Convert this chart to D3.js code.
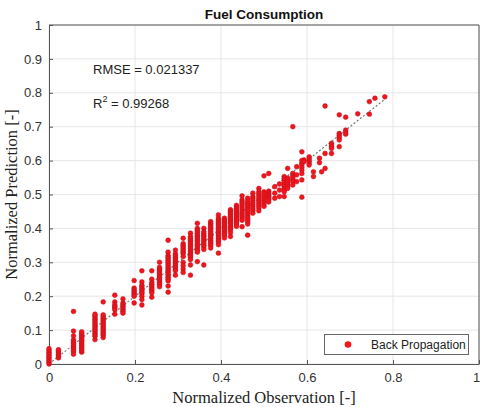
<!DOCTYPE html>
<html>
<head>
<meta charset="utf-8">
<script src="https://cdn.jsdelivr.net/npm/d3@7"></script>
<style>
  body { margin: 0; background: #fff; }
  text { font-family: "Liberation Sans", Arial, sans-serif; }
</style>
</head>
<body>
<div id="chart"></div>
<script>
// observation levels (x) and predictions read at each level (y)
const colX = [0.0, 0.022, 0.057, 0.076, 0.107, 0.126, 0.153, 0.172, 0.198, 0.216,
  0.239, 0.257, 0.277, 0.294, 0.312, 0.329, 0.345, 0.36, 0.376, 0.394,
  0.408, 0.422, 0.436, 0.449, 0.462, 0.474, 0.488, 0.50, 0.511, 0.525,
  0.536, 0.547, 0.555, 0.567, 0.576, 0.588, 0.593, 0.605, 0.615, 0.629,
  0.634, 0.642, 0.657, 0.675, 0.69, 0.718, 0.745, 0.758, 0.781];

const colY = [
  [0.0, 0.005, 0.01, 0.015, 0.02, 0.025, 0.03, 0.035, 0.04, 0.045],
  [0.018, 0.023, 0.028, 0.033, 0.038, 0.042],
  [0.155, 0.097, 0.083, 0.071, 0.066, 0.061, 0.056, 0.051, 0.046, 0.041, 0.036, 0.029],
  [0.035, 0.04, 0.045, 0.05, 0.055, 0.06, 0.065, 0.07, 0.075, 0.08, 0.085, 0.09, 0.095],
  [0.072, 0.082, 0.087, 0.092, 0.097, 0.102, 0.107, 0.112, 0.117, 0.122, 0.127, 0.132, 0.137, 0.142, 0.147],
  [0.183, 0.078, 0.085, 0.09, 0.095, 0.1, 0.105, 0.11, 0.115, 0.12, 0.125, 0.13, 0.135, 0.14, 0.145],
  [0.203, 0.183, 0.175, 0.17, 0.165, 0.16, 0.147],
  [0.192, 0.18, 0.175, 0.17, 0.165, 0.16, 0.155, 0.15],
  [0.246, 0.224, 0.219, 0.214, 0.209, 0.204, 0.2, 0.18],
  [0.275, 0.242, 0.232, 0.227, 0.222, 0.217, 0.212, 0.207, 0.2, 0.19, 0.174],
  [0.275, 0.25, 0.24, 0.235, 0.23, 0.225, 0.22, 0.215, 0.21, 0.197],
  [0.3, 0.285, 0.28, 0.275, 0.27, 0.265, 0.26, 0.255, 0.25, 0.245, 0.24, 0.235, 0.228],
  [0.365, 0.33, 0.32, 0.315, 0.31, 0.305, 0.3, 0.295, 0.29, 0.285, 0.28, 0.275, 0.27, 0.265, 0.26, 0.255, 0.25, 0.245, 0.23, 0.212],
  [0.336, 0.325, 0.32, 0.315, 0.31, 0.305, 0.3, 0.295, 0.29, 0.285, 0.28, 0.275, 0.262],
  [0.371, 0.355, 0.35, 0.345, 0.34, 0.335, 0.33, 0.325, 0.317, 0.3, 0.29, 0.28, 0.27],
  [0.386, 0.376, 0.37, 0.365, 0.36, 0.355, 0.35, 0.345, 0.34, 0.335, 0.33, 0.325, 0.32, 0.315, 0.308, 0.292, 0.262],
  [0.415, 0.4, 0.395, 0.39, 0.385, 0.38, 0.375, 0.37, 0.365, 0.36, 0.355, 0.35, 0.345, 0.34, 0.335, 0.33, 0.302],
  [0.4, 0.39, 0.385, 0.38, 0.375, 0.37, 0.365, 0.36, 0.355, 0.35, 0.345, 0.338, 0.292],
  [0.42, 0.415, 0.41, 0.405, 0.4, 0.395, 0.39, 0.385, 0.38, 0.375, 0.37, 0.365, 0.36, 0.355, 0.35, 0.342],
  [0.44, 0.43, 0.425, 0.42, 0.415, 0.41, 0.405, 0.4, 0.395, 0.39, 0.385, 0.38, 0.375, 0.37, 0.365, 0.36, 0.352, 0.327],
  [0.43, 0.425, 0.42, 0.415, 0.41, 0.405, 0.4, 0.395, 0.39, 0.385, 0.38, 0.372],
  [0.455, 0.45, 0.445, 0.44, 0.435, 0.43, 0.425, 0.42, 0.415, 0.41, 0.405, 0.4, 0.395, 0.387, 0.376],
  [0.468, 0.463, 0.458, 0.453, 0.448, 0.443, 0.438, 0.433, 0.428, 0.423, 0.418, 0.413, 0.406],
  [0.496, 0.484, 0.478, 0.472, 0.466, 0.46, 0.454, 0.448, 0.442, 0.436, 0.43, 0.424, 0.405],
  [0.489, 0.48, 0.474, 0.468, 0.462, 0.456, 0.45, 0.444, 0.438, 0.432, 0.426, 0.42, 0.413, 0.38],
  [0.504, 0.494, 0.488, 0.482, 0.476, 0.47, 0.464, 0.458, 0.452, 0.445],
  [0.518, 0.508, 0.502, 0.496, 0.49, 0.484, 0.478, 0.472, 0.466, 0.46, 0.452],
  [0.555, 0.508, 0.502, 0.496, 0.49, 0.484, 0.478, 0.472, 0.465],
  [0.562, 0.51, 0.505, 0.5, 0.495, 0.49, 0.485, 0.478],
  [0.523, 0.504, 0.489],
  [0.531, 0.513, 0.494],
  [0.553, 0.548, 0.542, 0.536, 0.53, 0.524, 0.518, 0.513, 0.508, 0.494],
  [0.577, 0.548, 0.542, 0.536, 0.53, 0.524, 0.518],
  [0.70, 0.562, 0.556, 0.55, 0.544, 0.538, 0.528],
  [0.582, 0.558, 0.538],
  [0.626, 0.6, 0.592, 0.587, 0.58, 0.572, 0.562, 0.543, 0.492],
  [0.602, 0.597],
  [0.611, 0.605, 0.599, 0.593, 0.587],
  [0.567, 0.553],
  [0.607, 0.594],
  [0.567],
  [0.761, 0.621, 0.577],
  [0.651, 0.646, 0.641, 0.636, 0.621],
  [0.735, 0.68, 0.674, 0.668, 0.661, 0.641],
  [0.728, 0.69, 0.684, 0.678],
  [0.738],
  [0.774, 0.737],
  [0.784],
  [0.788]
];

const xTicks = [0, 0.2, 0.4, 0.6, 0.8, 1];
const yTicks = [0, 0.1, 0.2, 0.3, 0.4, 0.5, 0.6, 0.7, 0.8, 0.9, 1];
const fitLine = [0, 0.78];

const width = 480;
const height = 407;
const margin = {top: 25, right: 1, bottom: 43, left: 49};

const svg = d3.select("#chart")
  .append("svg")
  .attr("width", width)
  .attr("height", height);

const x = d3.scaleLinear().domain([0, 1]).range([margin.left, width - margin.right]);
const y = d3.scaleLinear().domain([0, 1]).range([height - margin.bottom, margin.top]);

//grid
svg.append("g")
  .selectAll("line")
  .data(xTicks)
  .join("line")
  .attr("x1", d => x(d)).attr("x2", d => x(d))
  .attr("y1", y(0)).attr("y2", y(1))
  .attr("stroke", "#e6e6e6");

svg.append("g")
  .selectAll("line")
  .data(yTicks)
  .join("line")
  .attr("x1", x(0)).attr("x2", x(1))
  .attr("y1", d => y(d)).attr("y2", d => y(d))
  .attr("stroke", "#e6e6e6");

//axes
const xAxis = svg.append("g")
  .attr("transform", `translate(0,${y(0)})`)
  .call(d3.axisBottom(x).tickValues(xTicks).tickFormat(d3.format("~g")).tickSizeInner(-4).tickSizeOuter(0).tickPadding(9));

const yAxis = svg.append("g")
  .attr("transform", `translate(${x(0)},0)`)
  .call(d3.axisLeft(y).tickValues(yTicks).tickFormat(d3.format("~g")).tickSizeInner(-4).tickSizeOuter(0).tickPadding(7));

[xAxis, yAxis].forEach(g => {
  g.select(".domain").attr("stroke", "#555");
  g.selectAll(".tick line").attr("stroke", "#555");
  g.selectAll(".tick text")
    .attr("fill", "#333")
    .style("font-size", "13px")
    .style("font-family", "'Liberation Sans', Arial, sans-serif");
});
// last x label sits at the window edge
xAxis.selectAll(".tick text").filter(d => d === 1).attr("dx", -3);

//top and right frame
svg.append("line")
  .attr("x1", x(0)).attr("x2", x(1))
  .attr("y1", y(1)).attr("y2", y(1))
  .attr("stroke", "#555");
svg.append("line")
  .attr("x1", x(1)).attr("x2", x(1))
  .attr("y1", y(0)).attr("y2", y(1))
  .attr("stroke", "#555");

//reference line
svg.append("line")
  .attr("x1", x(fitLine[0])).attr("y1", y(fitLine[0]))
  .attr("x2", x(fitLine[1])).attr("y2", y(fitLine[1]))
  .attr("stroke", "#777")
  .attr("stroke-width", 1.2)
  .attr("stroke-dasharray", "2,2");

//points
const points = [];
colX.forEach((cx, i) => colY[i].forEach(v => points.push({x: cx, y: v})));

svg.append("g")
  .selectAll("circle")
  .data(points)
  .join("circle")
  .attr("cx", d => x(d.x))
  .attr("cy", d => y(d.y))
  .attr("r", 2.4)
  .attr("fill", "#f5141c")
  .attr("stroke", "#b5101a")
  .attr("stroke-width", 0.5);

//title
svg.append("text")
  .attr("x", 264).attr("y", 19)
  .attr("text-anchor", "middle")
  .style("font-size", "13.5px")
  .style("font-weight", "bold")
  .attr("fill", "#111")
  .text("Fuel Consumption");

//stats
svg.append("text")
  .attr("x", 93).attr("y", 74)
  .style("font-size", "13px")
  .attr("fill", "#222")
  .text("RMSE = 0.021337");

const r2 = svg.append("text")
  .attr("x", 93).attr("y", 108)
  .style("font-size", "13px")
  .attr("fill", "#222");
r2.append("tspan").text("R");
r2.append("tspan").attr("dy", -6).style("font-size", "9px").text("2");
r2.append("tspan").attr("dy", 6).text(" = 0.99268");

//axis labels
svg.append("text")
  .attr("x", 264).attr("y", 403)
  .attr("text-anchor", "middle")
  .style("font-family", "'Liberation Serif', 'Times New Roman', serif")
  .style("font-size", "16.5px")
  .attr("fill", "#222")
  .text("Normalized Observation [-]");

svg.append("text")
  .attr("transform", `translate(17,${(y(0) + y(1)) / 2}) rotate(-90)`)
  .attr("text-anchor", "middle")
  .style("font-family", "'Liberation Serif', 'Times New Roman', serif")
  .style("font-size", "16.5px")
  .attr("fill", "#222")
  .text("Normalized Prediction [-]");

//legend
const legend = svg.append("g");
legend.append("rect")
  .attr("x", 324.5).attr("y", 334.5)
  .attr("width", 144).attr("height", 20)
  .attr("fill", "#fff")
  .attr("stroke", "#666");
legend.append("circle")
  .attr("cx", 348).attr("cy", 344.5)
  .attr("r", 3.3)
  .attr("fill", "#f5141c");
legend.append("text")
  .attr("x", 371).attr("y", 349)
  .style("font-size", "12px")
  .attr("fill", "#222")
  .text("Back Propagation");
</script>
</body>
</html>
